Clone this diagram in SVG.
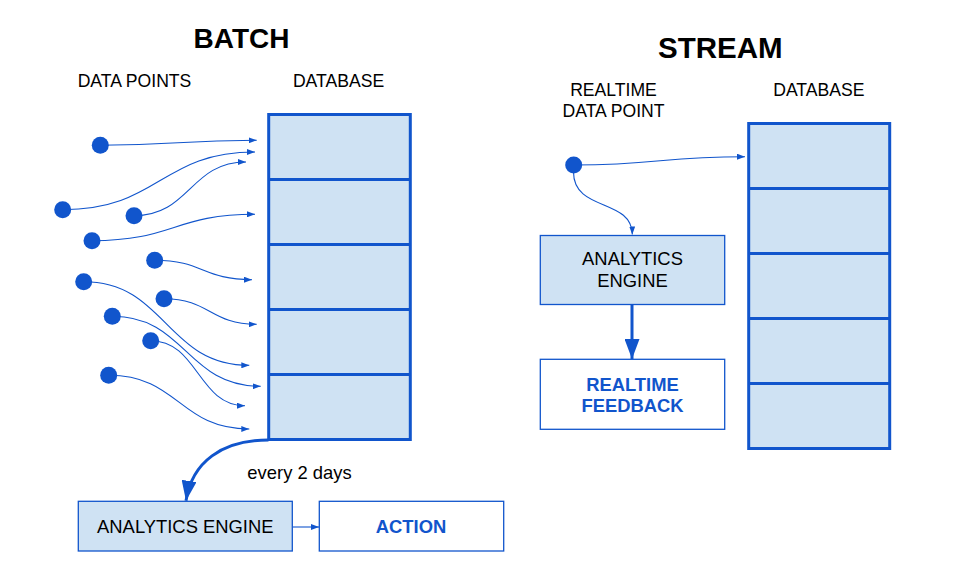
<svg xmlns="http://www.w3.org/2000/svg" width="956" height="579" viewBox="0 0 956 579">
<style>
text{font-family:"Liberation Sans",Arial,sans-serif;fill:#000}
.title{font-size:28px;font-weight:bold;text-anchor:middle}
.lbl{font-size:17.6px;text-anchor:middle}
.box{font-size:18.4px;text-anchor:middle}
.bb{font-size:18.4px;font-weight:bold;fill:#1155cc;text-anchor:middle}
.db{fill:#cfe2f3;stroke:#1155cc;stroke-width:3}
.row{stroke:#1155cc;stroke-width:3}
.fill{fill:#cfe2f3;stroke:#1155cc;stroke-width:1.3}
.white{fill:#fff;stroke:#1155cc;stroke-width:1.3}
.dot{fill:#1155cc}
.thin{fill:none;stroke:#1155cc;stroke-width:1.1;marker-end:url(#ah)}
.thick{fill:none;stroke:#1155cc;stroke-width:3;marker-end:url(#ahb)}
</style>
<defs>
<marker id="ah" markerUnits="userSpaceOnUse" markerWidth="8" markerHeight="6" refX="8" refY="3" orient="auto">
<path d="M0,0 L8,3 L0,6 z" fill="#1155cc"/>
</marker>
<marker id="ahb" markerUnits="userSpaceOnUse" markerWidth="20" markerHeight="15" refX="20" refY="7.5" orient="auto">
<path d="M0,0 L20,7.5 L0,15 z" fill="#1155cc"/>
</marker>
</defs>

<text class="title" x="241.5" y="48.3">BATCH</text>
<text class="title" x="720.3" y="58.3" style="font-size:29.5px">STREAM</text>
<text class="lbl" x="134.5" y="86.7">DATA POINTS</text>
<text class="lbl" x="338.5" y="86.7">DATABASE</text>
<text class="lbl" x="613.5" y="96">REALTIME</text>
<text class="lbl" x="613.5" y="117">DATA POINT</text>
<text class="lbl" x="818.8" y="96">DATABASE</text>
<text class="box" x="299.5" y="479">every 2 days</text>

<g id="batch-db">
<rect class="db" x="268.7" y="114.5" width="141.6" height="325"/>
<line class="row" x1="268.7" y1="179.5" x2="410.3" y2="179.5"/>
<line class="row" x1="268.7" y1="244.5" x2="410.3" y2="244.5"/>
<line class="row" x1="268.7" y1="309.5" x2="410.3" y2="309.5"/>
<line class="row" x1="268.7" y1="374.5" x2="410.3" y2="374.5"/>
</g>

<g id="stream-db">
<rect class="db" x="748.7" y="123.5" width="141" height="325"/>
<line class="row" x1="748.7" y1="188.5" x2="889.7" y2="188.5"/>
<line class="row" x1="748.7" y1="253.5" x2="889.7" y2="253.5"/>
<line class="row" x1="748.7" y1="318.5" x2="889.7" y2="318.5"/>
<line class="row" x1="748.7" y1="383.5" x2="889.7" y2="383.5"/>
</g>

<g id="connectors">
<path class="thin" d="M100.3,145.3 C178,145.3 178,140.3 256.7,140.3"/>
<path class="thin" d="M62.7,209.7 C160,209.7 160,152 255,152"/>
<path class="thin" d="M134,215.7 C190,215.7 190,162 246,162"/>
<path class="thin" d="M92,240.7 C174,240.7 174,214.3 255,214.3"/>
<path class="thin" d="M154.7,260.3 C203,260.3 203,279.7 252,279.7"/>
<path class="thin" d="M164,298.7 C210,298.7 210,324.3 256.7,324.3"/>
<path class="thin" d="M83.7,281.7 C166,281.7 166,365.3 249.3,365.3"/>
<path class="thin" d="M112.3,316.3 C186,316.3 186,386.3 260.7,386.3"/>
<path class="thin" d="M150.7,340.7 C198,340.7 198,405.7 245,405.7"/>
<path class="thin" d="M108.7,375.3 C179,375.3 179,429 249.3,429"/>
<path class="thin" d="M292.5,527 L319,527"/>
<path class="thick" d="M268.5,440 C222,440 192,462 186,500.7"/>
<path class="thin" d="M573.7,165 C660,165 660,156.7 745,156.7"/>
<path class="thin" d="M573.5,172 C573.5,212 632,198 632.3,234.5"/>
<path class="thick" d="M632,304.5 L632,359"/>
</g>

<g id="dots">
<circle class="dot" cx="100.3" cy="145.3" r="8.5"/>
<circle class="dot" cx="62.7" cy="209.7" r="8.5"/>
<circle class="dot" cx="134" cy="215.7" r="8.5"/>
<circle class="dot" cx="92" cy="240.7" r="8.5"/>
<circle class="dot" cx="154.7" cy="260.3" r="8.5"/>
<circle class="dot" cx="83.7" cy="281.7" r="8.5"/>
<circle class="dot" cx="164" cy="298.7" r="8.5"/>
<circle class="dot" cx="112.3" cy="316.3" r="8.5"/>
<circle class="dot" cx="150.7" cy="340.7" r="8.5"/>
<circle class="dot" cx="108.7" cy="375.3" r="8.5"/>
<circle class="dot" cx="573.7" cy="165" r="8.5"/>
</g>

<g id="batch-analytics">
<rect class="fill" x="78.3" y="501.3" width="214" height="49.7"/>
<text class="box" x="185.3" y="533.3">ANALYTICS ENGINE</text>
</g>
<g id="action">
<rect class="white" x="319.3" y="501.3" width="184.4" height="49.7"/>
<text class="bb" x="411" y="533.3">ACTION</text>
</g>
<g id="stream-analytics">
<rect class="fill" x="540.3" y="235.5" width="184.4" height="69"/>
<text class="box" x="632.5" y="265.3">ANALYTICS</text>
<text class="box" x="632.5" y="287.3">ENGINE</text>
</g>
<g id="realtime-feedback">
<rect class="white" x="540.3" y="359.3" width="184.4" height="70"/>
<text class="bb" x="632.5" y="390.7">REALTIME</text>
<text class="bb" x="632.5" y="412">FEEDBACK</text>
</g>
</svg>
